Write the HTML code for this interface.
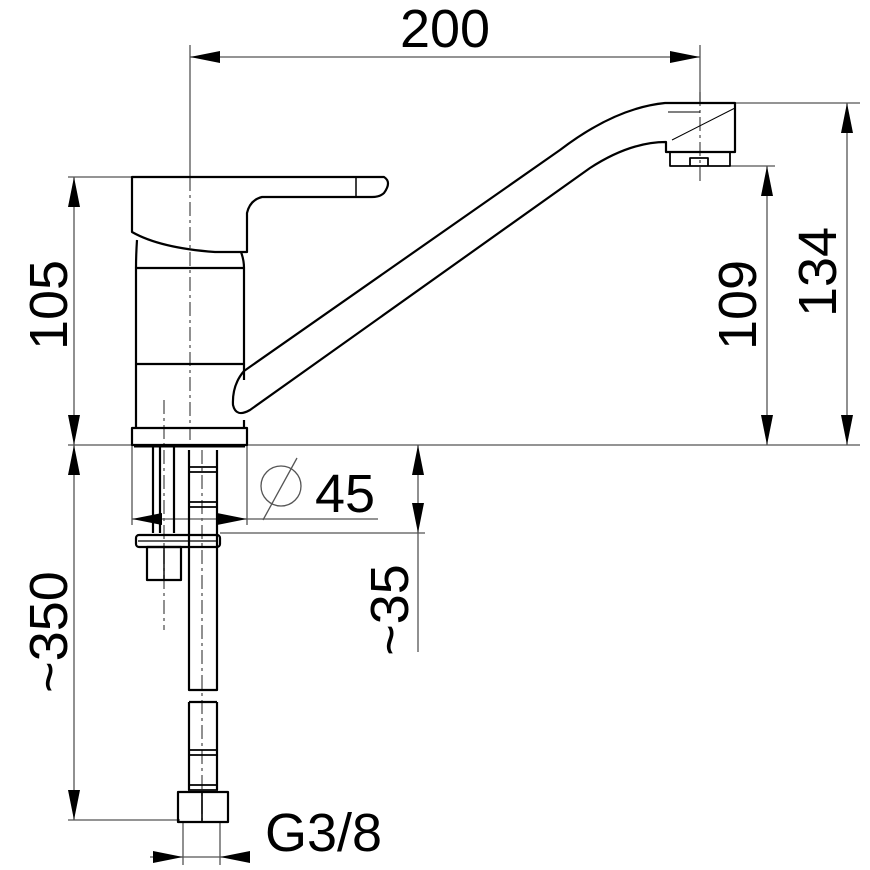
<!DOCTYPE html>
<html><head><style>body{margin:0;background:#fff}svg{display:block}text{font-family:"Liberation Sans",Arial,sans-serif;font-size:54px;fill:#000}</style></head>
<body>
<svg width="870" height="870" viewBox="0 0 870 870" xmlns="http://www.w3.org/2000/svg">
<defs>
<marker id="a" viewBox="0 0 30 12" refX="30" refY="6" markerWidth="30" markerHeight="12" markerUnits="userSpaceOnUse" orient="auto-start-reverse"><path d="M30,6 L0,0 L0,12 Z" fill="#000"/></marker>
</defs>
<g stroke="#555" stroke-width="1.3" fill="none">
<line x1="190" y1="45" x2="190" y2="177"/>
<line x1="700" y1="45" x2="700" y2="103"/>
<line x1="735" y1="103" x2="860" y2="103"/>
<line x1="730" y1="166" x2="775" y2="166"/>
<line x1="68" y1="445" x2="860" y2="445"/>
<line x1="68" y1="177" x2="132" y2="177"/>
<line x1="68" y1="820" x2="180" y2="820"/>
<line x1="132" y1="446" x2="132" y2="525"/>
<line x1="247" y1="446" x2="247" y2="525"/>
<line x1="220" y1="533" x2="425" y2="533"/>
<line x1="183" y1="822" x2="183" y2="865"/>
<line x1="220" y1="822" x2="220" y2="865"/>
<line x1="190" y1="57" x2="700" y2="57" marker-start="url(#a)" marker-end="url(#a)"/>
<line x1="847" y1="103" x2="847" y2="445" marker-start="url(#a)" marker-end="url(#a)"/>
<line x1="767" y1="166" x2="767" y2="445" marker-start="url(#a)" marker-end="url(#a)"/>
<line x1="74" y1="177" x2="74" y2="445" marker-start="url(#a)" marker-end="url(#a)"/>
<line x1="74" y1="445" x2="74" y2="820" marker-start="url(#a)" marker-end="url(#a)"/>
<line x1="132" y1="519" x2="378" y2="519"/>
<path d="M132,519 L162,513 L162,525 Z M247,519 L217,513 L217,525 Z" fill="#000" stroke="none"/>
<line x1="418" y1="445" x2="418" y2="652"/>
<path d="M418,445 L412,475 L424,475 Z M418,533 L412,503 L424,503 Z" fill="#000" stroke="none"/>
<line x1="150" y1="857" x2="250" y2="857"/>
<path d="M183,857 L153,851 L153,863 Z M220,857 L250,851 L250,863 Z" fill="#000" stroke="none"/>
<circle cx="281" cy="486" r="20"/>
<line x1="263" y1="520" x2="297" y2="458"/>
<line x1="190" y1="177" x2="190" y2="440" stroke-dasharray="14,4,3,4"/>
<line x1="700" y1="92" x2="700" y2="185" stroke-dasharray="14,4,3,4"/>
<line x1="202" y1="450" x2="202" y2="820" stroke-dasharray="14,4,3,4"/>
<line x1="164" y1="400" x2="164" y2="630" stroke-dasharray="14,4,3,4"/>
</g>
<g stroke="#000" stroke-width="2.2" fill="none" stroke-linejoin="round">
<path d="M132,177 L384,177 Q392,182 384,193 Q380,197 372,197 L262,197 Q250,200 247,213 L247,252 L215,252 Q160,248 132,232 Z"/>
<path d="M137,240 Q136,255 136,268"/>
<path d="M241,252 Q244,260 244,268"/>
<path d="M356,178 L356,196" stroke-width="1.5"/>
<rect x="136" y="268" width="108" height="96"/>
<path d="M136,364 L136,428 M244,364 L244,380 M244,420 L244,428"/>
<rect x="132" y="428" width="115" height="17" />
<line x1="134" y1="446" x2="245" y2="446" stroke-width="3"/>
<path d="M244,371 L560,150 Q615,108 665,103 L735,103 L735,152 L666,152 L666,142 Q630,142 590,168 L250,410 Q236,418 233,405 Q232,385 244,371"/>
<path d="M670,152 L670,166 L730,166 L730,152 M690,166 L690,158 L708,158 L708,166" stroke-width="1.8"/>
<path d="M668,112 L700,112 M672,140 L735,108" stroke-width="1"/>
<path d="M153,446 L153,533 M160,446 L160,533 M174,446 L174,533"/>
<path d="M189,450 L189,690 L217,690 L217,450"/>
<path d="M188,467 L218,467 M188,472 L218,472 M188,502 L218,502 M188,507 L218,507" stroke-width="1.8"/>
<rect x="136" y="535" width="84" height="12" rx="3"/>
<line x1="138" y1="541" x2="218" y2="541" stroke-width="1.2"/>
<rect x="147" y="547" width="34" height="33"/>
<line x1="164" y1="547" x2="164" y2="580" stroke-width="1.4"/>
<path d="M189,702 L189,790 M217,702 L217,790 M189,702 L217,702"/>
<path d="M188,750 L218,750 M188,755 L218,755 M188,785 L218,785 M188,790 L218,790" stroke-width="1.8"/>
<rect x="178" y="792" width="50" height="30"/>
<line x1="202" y1="792" x2="202" y2="822" stroke-width="1.6"/>
</g>
<text x="445" y="47" text-anchor="middle">200</text>
<text x="315" y="512">45</text>
<text x="265" y="851" font-size="50">G3/8</text>
<text transform="translate(67,305) rotate(-90)" text-anchor="middle">105</text>
<text transform="translate(67,632) rotate(-90)" text-anchor="middle">~350</text>
<text transform="translate(756,305) rotate(-90)" text-anchor="middle">109</text>
<text transform="translate(836,272) rotate(-90)" text-anchor="middle">134</text>
<text transform="translate(408,610) rotate(-90)" text-anchor="middle">~35</text>
</svg>
</body></html>
